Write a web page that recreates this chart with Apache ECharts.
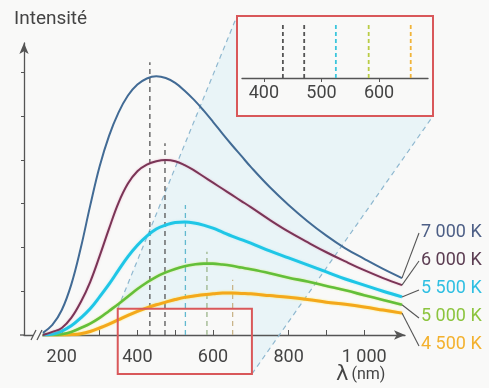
<!DOCTYPE html>
<html><head><meta charset="utf-8">
<script src="https://cdn.jsdelivr.net/npm/echarts@6/dist/echarts.min.js"></script>
<style>html,body{margin:0;padding:0;background:#f9f9f8}#c{width:489px;height:388px}</style>
</head><body><div id="c"></div>
<script>
// ---- data ----
const wavelengths = [150,175,200,225,250,275,300,325,350,375,400,425,450,475,500,525,550,575,600,625,650,675,700,750,800,850,900,950,1000,1050,1100];
const t7000 = [0.05,0.23,0.57,1.15,1.98,2.95,3.85,4.55,5.08,5.47,5.72,5.86,5.91,5.87,5.76,5.58,5.37,5.13,4.87,4.60,4.34,4.09,3.84,3.38,2.97,2.60,2.27,1.98,1.74,1.51,1.30];
const t6000 = [0,0.07,0.16,0.39,0.75,1.21,1.80,2.43,3.02,3.46,3.74,3.89,3.97,4.00,3.97,3.88,3.76,3.62,3.48,3.34,3.20,3.06,2.92,2.63,2.36,2.12,1.89,1.68,1.48,1.30,1.14];
const t5500 = [0,0.02,0.09,0.21,0.39,0.60,0.87,1.16,1.48,1.79,2.05,2.26,2.42,2.51,2.57,2.58,2.56,2.51,2.44,2.35,2.26,2.18,2.10,1.92,1.76,1.60,1.44,1.28,1.14,1.00,0.87];
const t5000 = [0,0,0.02,0.07,0.16,0.26,0.39,0.55,0.71,0.88,1.05,1.20,1.33,1.43,1.51,1.57,1.61,1.63,1.63,1.61,1.58,1.54,1.50,1.41,1.31,1.22,1.12,1.02,0.91,0.80,0.69];
const t4500 = [0,0,0,0.01,0.03,0.08,0.16,0.25,0.35,0.45,0.54,0.62,0.69,0.75,0.81,0.86,0.89,0.92,0.94,0.96,0.96,0.95,0.94,0.90,0.86,0.81,0.75,0.70,0.64,0.57,0.50];
const curveNames = ['7 000 K','6 000 K','5 500 K','5 000 K','4 500 K'];
const peakLambda = [433, 473, 527, 584, 652];
const peakLineTop = [6.23, 4.38, 2.97, 1.90, 1.26];
const insetLambda = [433, 470, 525, 582, 655];
const xTicks = [200,300,400,500,600,700,800,900,1000];
const xLabels = [200,400,600,800,1000];
const yTicks = [1,2,3,4,5,6];
const insetLabels = [400,500,600];
const insetTicks = [400,500,600];

// ---- styles ----
const curveData = [t7000,t6000,t5500,t5000,t4500];
const curveColors = ['#426b95','#7a3556','#1fc6e6','#63bf3a','#f4a81c'];
const curveWidths = [2,2,3,2.6,3];
const curveShadow = ['rgba(0,0,0,0)','rgba(230,120,170,0.5)','rgba(120,230,250,0.5)','rgba(200,230,60,0.6)','rgba(255,230,60,0.8)'];
const labelColors = ['#4d5f86','#5c3d52','#2fbfe2','#8cc43e','#f3b12e'];
const peakColors = ['#555','#555','#62b9cf','#9bb58a','#c9b489'];
const insetColors = ['#555','#555','#3cc6dc','#b9cc45','#f0b43a'];
const font = 'Roboto, "Noto Sans", sans-serif';

const chart = echarts.init(document.getElementById('c'));
const series = [];
curveData.forEach((vals, i) => {
  series.push({
    type:'line', name:curveNames[i], xAxisIndex:0, yAxisIndex:0,
    data: wavelengths.map((w,k)=>[w, vals[k]]),
    smooth:0.4, showSymbol:false, silent:true, z:8-i,
    lineStyle:{color:curveColors[i], width:curveWidths[i], shadowColor:curveShadow[i], shadowBlur:2}
  });
});
peakLambda.forEach((w,i)=>{
  series.push({type:'line', xAxisIndex:0, yAxisIndex:0, data:[[w,0],[w,peakLineTop[i]]],
    showSymbol:false, silent:true, z:2,
    lineStyle:{color:peakColors[i], width:1.3, type:[5,4]}});
});
insetLambda.forEach((w,i)=>{
  series.push({type:'line', xAxisIndex:1, yAxisIndex:1, data:[[w,0],[w,1]],
    showSymbol:false, silent:true, z:12,
    lineStyle:{color:insetColors[i], width:1.8, type:[4,3]}});
});

chart.setOption({
  backgroundColor:'#f9f9f8',
  animation:false,
  grid:[
    {left:24, width:381, top:43, height:292},
    {left:242, width:186, top:25, height:53, z:12}
  ],
  xAxis:[
    {gridIndex:0, type:'value', min:100, max:1108,
     axisLine:{lineStyle:{color:'#555', width:1.3}, symbol:['none','arrow'], symbolSize:[7,11]},
     axisTick:{inside:true, length:5, customValues:xTicks, lineStyle:{color:'#555'}},
     axisLabel:{customValues:xLabels, fontSize:18, color:'#444', fontFamily:font, margin:13,
       formatter:v=> v>=1000 ? (Math.floor(v/1000)+' '+String(v%1000).padStart(3,'0')) : String(v)},
     splitLine:{show:false}},
    {gridIndex:1, type:'value', min:362, max:685, z:12,
     axisLine:{lineStyle:{color:'#555', width:1.3}},
     axisTick:{inside:false, length:4, customValues:insetTicks, lineStyle:{color:'#555'}},
     axisLabel:{customValues:insetLabels, fontSize:18, color:'#444', fontFamily:font, margin:6},
     splitLine:{show:false}}
  ],
  yAxis:[
    {gridIndex:0, type:'value', min:0, max:6.67,
     axisLine:{show:true, lineStyle:{color:'#555', width:1.3}, symbol:['none','arrow'], symbolSize:[7,11]},
     axisTick:{show:true, length:3, customValues:yTicks, lineStyle:{color:'#555'}},
     axisLabel:{show:false}, splitLine:{show:false}},
    {gridIndex:1, type:'value', min:0, max:1, show:false}
  ],
  series
});

// ---- decorations positioned through the axes ----
const p = (x,y)=>chart.convertToPixel({gridIndex:0}, [x,y]);
const boxTL = p(348, 0.6), boxBR = p(703, -0.89);
const inset = {x1:237, y1:16, x2:433, y2:116};
const g = [];
g.push({type:'polygon', z:0, silent:true,
  shape:{points:[[boxTL[0],boxTL[1]],[inset.x1,inset.y1],[inset.x1,inset.y2],[inset.x2,inset.y2],[boxBR[0],boxBR[1]],[boxBR[0],boxTL[1]]]},
  style:{fill:'rgba(195,232,246,0.28)'}});
g.push({type:'line', z:1, silent:true, shape:{x1:boxTL[0],y1:boxTL[1],x2:inset.x1,y2:inset.y1},
  style:{stroke:'#8fb8d0', lineWidth:1.2, lineDash:[5,4]}});
g.push({type:'line', z:1, silent:true, shape:{x1:boxBR[0],y1:boxBR[1],x2:inset.x2,y2:inset.y2},
  style:{stroke:'#8fb8d0', lineWidth:1.2, lineDash:[5,4]}});
g.push({type:'rect', z:20, silent:true, shape:{x:boxTL[0],y:boxTL[1],width:boxBR[0]-boxTL[0],height:boxBR[1]-boxTL[1]},
  style:{fill:null, stroke:'#d9585a', lineWidth:2}});
g.push({type:'rect', z:20, silent:true, shape:{x:inset.x1,y:inset.y1,width:inset.x2-inset.x1,height:inset.y2-inset.y1},
  style:{fill:null, stroke:'#d9585a', lineWidth:2}});
// axis break and left stub
const o = p(100,0);
g.push({type:'line', z:20, silent:true, shape:{x1:o[0]-4,y1:o[1],x2:o[0],y2:o[1]}, style:{stroke:'#555', lineWidth:1.3}});
g.push({type:'rect', z:20, silent:true, shape:{x:o[0]+9,y:o[1]-3,width:9,height:6}, style:{fill:'#f9f9f8'}});
g.push({type:'line', z:21, silent:true, shape:{x1:o[0]+7,y1:o[1]+5,x2:o[0]+12,y2:o[1]-5}, style:{stroke:'#555', lineWidth:1.3}});
g.push({type:'line', z:21, silent:true, shape:{x1:o[0]+13,y1:o[1]+5,x2:o[0]+18,y2:o[1]-5}, style:{stroke:'#555', lineWidth:1.3}});
// titles
g.push({type:'text', z:20, silent:true, left:14, top:10, style:{text:'Intensité', fontSize:19, fontFamily:font, fill:'#444'}});
g.push({type:'text', z:20, silent:true, left:336, top:364, style:{text:'{a|λ} {b|(nm)}', fontFamily:font, fill:'#444',
  rich:{a:{fontSize:21, fill:'#444', fontFamily:'"DejaVu Sans", sans-serif'}, b:{fontSize:16, fill:'#444', fontFamily:font}}}});
// curve labels with leader lines
const labelY = [232, 260, 288, 316, 344];
curveData.forEach((vals,i)=>{
  const end = p(wavelengths[wavelengths.length-1], vals[vals.length-1]);
  g.push({type:'line', z:20, silent:true, shape:{x1:end[0],y1:end[1],x2:419,y2:labelY[i]+(i<2?1:2)},
    style:{stroke:'#555', lineWidth:1.1}});
  g.push({type:'text', z:20, silent:true, x:421, y:labelY[i], style:{text:curveNames[i], fontSize:18, fontFamily:font, fill:labelColors[i], verticalAlign:'middle'}});
});
chart.setOption({graphic:g});
</script></body></html>
